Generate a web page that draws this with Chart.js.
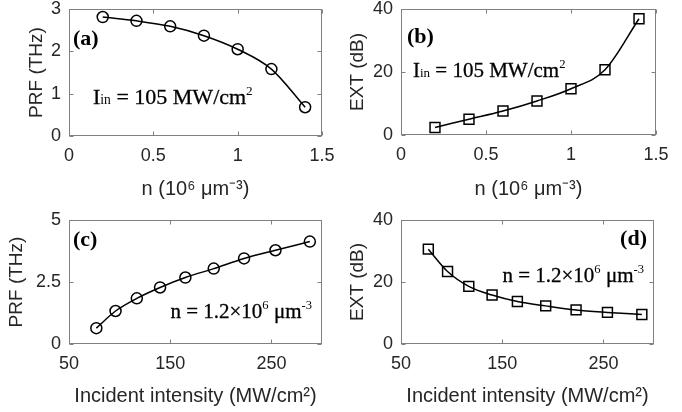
<!DOCTYPE html>
<html>
<head>
<meta charset="utf-8">
<script src="https://cdn.jsdelivr.net/npm/chart.js@4"></script>
<style>
  body { margin: 0; background: #fff; }
  #wrap { position: relative; width: 682px; height: 412px; }
  canvas { position: absolute; }
</style>
</head>
<body>
<div id="wrap">
  <canvas id="chartA" width="341" height="206" style="left:0;top:0"></canvas>
  <canvas id="chartB" width="341" height="206" style="left:341px;top:0"></canvas>
  <canvas id="chartC" width="341" height="206" style="left:0;top:206px"></canvas>
  <canvas id="chartD" width="341" height="206" style="left:341px;top:206px"></canvas>
</div>
<script>
// data
const nValues = [0.2, 0.4, 0.6, 0.8, 1.0, 1.2, 1.4];
const prfVsN = [2.81, 2.72, 2.59, 2.37, 2.05, 1.58, 0.68];
const extVsN = [2.4, 5.0, 7.6, 10.8, 14.7, 20.7, 36.9];

const intensity = [77, 96, 117, 140, 165, 193, 223, 254, 288];
const prfVsI = [0.64, 1.33, 1.84, 2.28, 2.68, 3.04, 3.45, 3.78, 4.13];
const extVsI = [30.6, 23.4, 18.6, 15.8, 13.7, 12.3, 11.0, 10.2, 9.5];

const nTicks = [0, 0.5, 1, 1.5];
const intensityTicks = [50, 150, 250];
const prfTicksA = [0, 1, 2, 3];
const prfTicksC = [0, 2.5, 5];
const extTicks = [0, 20, 40];

const INK = "#262626";
const BOX = "#808080";
const SANS = '"Liberation Sans", Arial, sans-serif';
const SERIF = '"Liberation Serif", "Times New Roman", serif';

// text labels inside each panel (offsets from the plot area corner)
const iinText = [
  { t: "I" }, { t: "in", s: 0.62 }, { t: " = 105 MW/cm" }, { t: "2", s: 0.6, r: 0.42 }
];
const nText = [
  { t: "n = 1.2×10" }, { t: "6", s: 0.6, r: 0.42 }, { t: " μm" }, { t: "-3", s: 0.6, r: 0.42 }
];
const notes = {
  chartA: [
    { parts: [{ t: "(a)" }], size: 22, bold: true, dx: 4, dy: 36 },
    { parts: iinText, size: 22, dx: 24, dy: 95 }
  ],
  chartB: [
    { parts: [{ t: "(b)" }], size: 22, bold: true, dx: 6, dy: 34 },
    { parts: iinText, size: 21, dx: 12, dy: 68 }
  ],
  chartC: [
    { parts: [{ t: "(c)" }], size: 22, bold: true, dx: 4, dy: 26 },
    { parts: nText, size: 21, dx: -10, dy: 98, right: true }
  ],
  chartD: [
    { parts: [{ t: "(d)" }], size: 22, bold: true, dx: -7, dy: 25, right: true },
    { parts: nText, size: 21, dx: -10, dy: 62, right: true }
  ]
};

// matlab style box with inward ticks on all four sides
const boxPlugin = {
  id: "box",
  afterDraw(chart) {
    const { ctx, chartArea: a, scales } = chart;
    const L = Math.round(a.left) + 0.5, R = Math.round(a.right) - 0.5;
    const T = Math.round(a.top) + 0.5, B = Math.round(a.bottom) - 0.5;
    ctx.save();
    ctx.strokeStyle = BOX;
    ctx.lineWidth = 1;
    ctx.strokeRect(L, T, R - L, B - T);
    ctx.beginPath();
    scales.x.ticks.forEach((tk) => {
      const px = Math.round(scales.x.getPixelForValue(tk.value)) + 0.5;
      ctx.moveTo(px, B); ctx.lineTo(px, B - 4);
      ctx.moveTo(px, T); ctx.lineTo(px, T + 4);
    });
    scales.y.ticks.forEach((tk) => {
      const py = Math.round(scales.y.getPixelForValue(tk.value)) + 0.5;
      ctx.moveTo(L, py); ctx.lineTo(L + 4, py);
      ctx.moveTo(R, py); ctx.lineTo(R - 4, py);
    });
    ctx.stroke();
    ctx.restore();
  }
};

const notePlugin = {
  id: "notes",
  afterDraw(chart) {
    const list = notes[chart.canvas.id] || [];
    const { ctx, chartArea: a } = chart;
    ctx.save();
    ctx.fillStyle = "#000";
    ctx.strokeStyle = "#000";
    ctx.lineWidth = 0.3;
    ctx.textBaseline = "alphabetic";
    ctx.textAlign = "left";
    list.forEach((n) => {
      const fontOf = (p) => (n.bold ? "bold " : "") + (n.size * (p.s || 1)).toFixed(1) + "px " + SERIF;
      let total = 0;
      n.parts.forEach((p) => { ctx.font = fontOf(p); total += ctx.measureText(p.t).width; });
      let x = n.right ? a.right + n.dx - total : a.left + n.dx;
      const y = a.top + n.dy;
      n.parts.forEach((p) => {
        ctx.font = fontOf(p);
        const yy = y - (p.r || 0) * n.size;
        ctx.fillText(p.t, x, yy);
        // a touch of extra weight, the figure's serif text is semi-bold
        if (!n.bold && !p.s) ctx.strokeText(p.t, x, yy);
        x += ctx.measureText(p.t).width;
      });
    });
    ctx.restore();
  }
};

function makeChart(id, cfg) {
  return new Chart(document.getElementById(id), {
    type: "line",
    data: {
      datasets: [{
        data: cfg.x.map((v, i) => ({ x: v, y: cfg.y[i] })),
        borderColor: "#000",
        borderWidth: 1.5,
        pointStyle: cfg.marker,
        pointRadius: cfg.radius,
        pointBorderWidth: 1.5,
        pointBorderColor: "#000",
        pointBackgroundColor: "rgba(0,0,0,0)",
        cubicInterpolationMode: "monotone",
        fill: false
      }]
    },
    options: {
      responsive: false,
      animation: false,
      devicePixelRatio: 1,
      layout: { padding: { left: 0, right: cfg.padRight, top: cfg.padTop, bottom: 0 } },
      plugins: { legend: { display: false }, tooltip: { enabled: false } },
      scales: {
        x: {
          type: "linear",
          min: cfg.xMin,
          max: cfg.xMax,
          afterBuildTicks: (s) => { s.ticks = cfg.xTicks.map((v) => ({ value: v })); },
          afterFit: (s) => { s.height = cfg.xAxisH; s.paddingLeft = 0; s.paddingRight = 0; },
          grid: { display: false, drawTicks: false },
          border: { display: false },
          ticks: { color: INK, font: { family: SANS, size: 18 }, padding: 9, maxRotation: 0, autoSkip: false, callback: (v) => String(v) },
          title: { display: true, text: cfg.xTitle, color: INK, font: { family: SANS, size: 20 }, padding: { top: 0, bottom: cfg.xTitlePad } }
        },
        y: {
          type: "linear",
          min: cfg.yTicks[0],
          max: cfg.yTicks[cfg.yTicks.length - 1],
          afterBuildTicks: (s) => { s.ticks = cfg.yTicks.map((v) => ({ value: v })); },
          afterFit: (s) => { s.width = cfg.yAxisW; s.paddingTop = 0; s.paddingBottom = 0; },
          grid: { display: false, drawTicks: false },
          border: { display: false },
          ticks: { color: INK, font: { family: SANS, size: 18 }, padding: 8, autoSkip: false, callback: (v) => String(v) },
          title: { display: true, text: cfg.yTitle, color: INK, font: { family: SANS, size: 19 }, padding: { top: cfg.yTitlePad, bottom: 0 } }
        }
      }
    },
    plugins: [boxPlugin, notePlugin]
  });
}

const nTitle = "n (10⁶ μm⁻³)";
const iTitle = "Incident intensity (MW/cm²)";

makeChart("chartA", {
  x: nValues, y: prfVsN, marker: "circle", radius: 5.5,
  xMin: 0, xMax: 1.5, xTicks: nTicks, yTicks: prfTicksA,
  xTitle: nTitle, yTitle: "PRF (THz)",
  padRight: 19, padTop: 9, xAxisH: 70, yAxisW: 69, xTitlePad: 5, yTitlePad: 25.6
});
makeChart("chartB", {
  x: nValues, y: extVsN, marker: "rect", radius: 7,
  xMin: 0, xMax: 1.5, xTicks: nTicks, yTicks: extTicks,
  xTitle: nTitle, yTitle: "EXT (dB)",
  padRight: 26, padTop: 9, xAxisH: 71, yAxisW: 60, xTitlePad: 5, yTitlePad: 5.6
});
makeChart("chartC", {
  x: intensity, y: prfVsI, marker: "circle", radius: 5.5,
  xMin: 50, xMax: 300, xTicks: intensityTicks, yTicks: prfTicksC,
  xTitle: iTitle, yTitle: "PRF (THz)",
  padRight: 19, padTop: 14, xAxisH: 68, yAxisW: 69, xTitlePad: 4, yTitlePad: 5.6
});
makeChart("chartD", {
  x: intensity, y: extVsI, marker: "rect", radius: 7,
  xMin: 50, xMax: 300, xTicks: intensityTicks, yTicks: extTicks,
  xTitle: iTitle, yTitle: "EXT (dB)",
  padRight: 28, padTop: 14, xAxisH: 68, yAxisW: 60, xTitlePad: 4, yTitlePad: 5.6
});
</script>
</body>
</html>
